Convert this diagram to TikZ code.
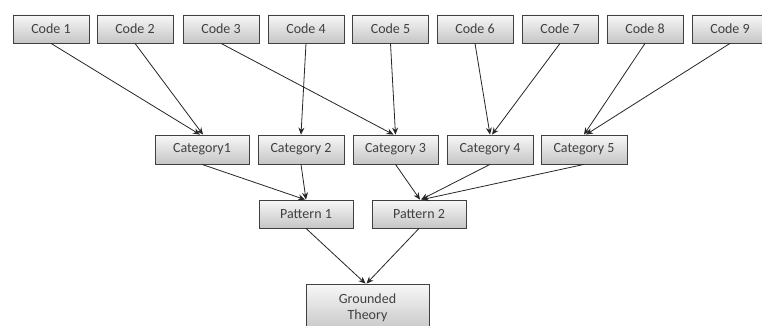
\documentclass[tikz,border=0pt]{standalone}
\usepackage{fontspec}
\setmainfont{Carlito}
\usetikzlibrary{arrows.meta,shadows}
\begin{document}
\begin{tikzpicture}[x=1pt,y=-1pt,
  box/.style={draw=black!75, line width=0.8pt, top color=gray!6, bottom color=gray!45,
    drop shadow={shadow xshift=0.8pt, shadow yshift=-0.8pt, opacity=0.35},
    inner sep=0pt, font=\fontsize{14}{15.5}\selectfont, text=black!75, align=center},
  conn/.style={draw=black!85, line width=0.8pt, -{Stealth[length=7pt,width=6pt]}}]
\useasboundingbox (0,0) rectangle (762,326);
\clip (0,0) rectangle (762,326);
% codes
\foreach \n/\x in {1/51,2/135,3/221,4/306,5/390.5,6/475,7/560,8/645,9/730}{
  \node[box, minimum width=76pt, minimum height=28pt] (c\n) at (\x,29) {Code \n};
}
% categories
\node[box, minimum width=94pt, minimum height=29pt] (k1) at (202,149.5) {Category1};
\node[box, minimum width=86pt, minimum height=29pt] (k2) at (301,149.5) {Category 2};
\node[box, minimum width=85pt, minimum height=29pt] (k3) at (395.5,149.5) {Category 3};
\node[box, minimum width=86pt, minimum height=29pt] (k4) at (490,149.5) {Category 4};
\node[box, minimum width=86pt, minimum height=29pt] (k5) at (584,149.5) {Category 5};
% patterns
\node[box, minimum width=94pt, minimum height=28pt] (p1) at (306,214) {Pattern 1};
\node[box, minimum width=94pt, minimum height=28pt] (p2) at (419,214) {Pattern 2};
% grounded
\node[box, minimum width=123pt, minimum height=48pt] (g) at (367.5,308) {Grounded\\Theory};
% connectors
\draw[conn] (c1.south) -- ([xshift=-2pt]k1.north);
\draw[conn] (c2.south) -- ([xshift=1pt]k1.north);
\draw[conn] (c3.south) -- ([xshift=-2pt]k3.north);
\draw[conn] (c4.south) -- (k2.north);
\draw[conn] (c5.south) -- (k3.north);
\draw[conn] (c6.south) -- (k4.north);
\draw[conn] (c7.south) -- ([xshift=2pt]k4.north);
\draw[conn] (c8.south) -- (k5.north);
\draw[conn] (c9.south) -- ([xshift=2pt]k5.north);
\draw[conn] (k1.south) -- ([xshift=-1pt]p1.north);
\draw[conn] (k2.south) -- (p1.north);
\draw[conn] (k3.south) -- ([xshift=1pt]p2.north);
\draw[conn] (k4.south) -- ([xshift=2pt]p2.north);
\draw[conn] (k5.south) -- ([xshift=3pt]p2.north);
\draw[conn] (p1.south) -- ([xshift=-2pt]g.north);
\draw[conn] (p2.south) -- ([xshift=-1pt]g.north);
\end{tikzpicture}
\end{document}
